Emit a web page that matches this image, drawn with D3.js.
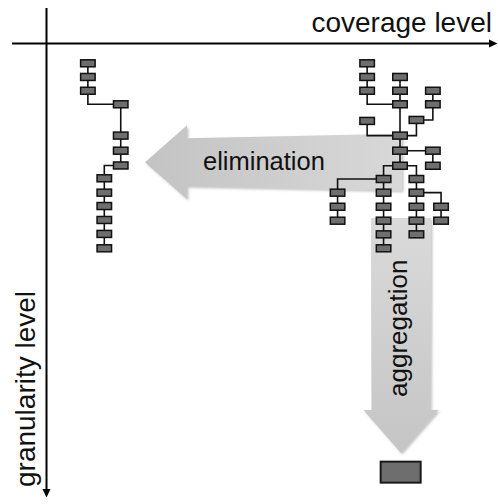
<!DOCTYPE html>
<html>
<head>
<meta charset="utf-8">
<script src="https://cdn.jsdelivr.net/npm/d3@7"></script>
<style>
  body { margin: 0; background: #fff; }
  svg { display: block; }
  text { font-family: "Liberation Sans", Arial, sans-serif; fill: #111; }
</style>
</head>
<body>
<svg id="chart"></svg>
<script>
// Tree nodes: [id, column, level]
var leftTreeNodes = [
    ["L1", -1, 0], ["L2", -1, 0.96], ["L3", -1, 1.93],
    ["L4", 1, 2.88], ["L5", 1, 5.08], ["L6", 1, 6.14], ["L7", 1, 7.18],
    ["L8", 0, 8.08], ["L9", 0, 9.09], ["L10", 0, 10.03],
    ["L11", 0, 11.01], ["L12", 0, 11.99], ["L13", 0, 13]
];
var rightTreeNodes = [
    ["A1", 16, 0], ["A2", 16, 0.96], ["A3", 16, 1.93],
    ["B1", 18, 0.96], ["B2", 18, 1.93], ["R3", 18, 2.88],
    ["C1", 20, 1.93], ["C2", 20, 2.88],
    ["D", 19, 3.98], ["E", 16, 4.05],
    ["R", 18, 5.08], ["S", 18, 6.14], ["S2", 20, 6.14], ["S3", 20, 7.2],
    ["T", 18, 7.2],
    ["U", 17, 8.13], ["U2", 17, 9.09], ["U3", 17, 10.08], ["U4", 17, 11.06], ["U5", 17, 12.02], ["U6", 17, 13],
    ["V", 19, 8.13], ["V2", 19, 9.09], ["V3", 19, 10.08], ["V4", 19, 11.06], ["V5", 19, 12.02],
    ["W1", 14.2, 9.09], ["W2", 14.2, 10.08], ["W3", 14.2, 11.06],
    ["X1", 20.5, 10.08], ["X2", 20.5, 11.06]
];
// aggregated result node
var aggregateNode = ["AGG", 18.04, 28.73];

// Links: [upper, lower, elbow]  ("vh" = down first, "hv" = across first)
var treeLinks = [
    ["L1", "L2"], ["L2", "L3"], ["L3", "L4", "vh"], ["L4", "L5"], ["L5", "L6"], ["L6", "L7"],
    ["L7", "L8", "hv"], ["L8", "L9"], ["L9", "L10"], ["L10", "L11"], ["L11", "L12"], ["L12", "L13"],
    ["A1", "A2"], ["A2", "A3"], ["A3", "R3", "vh"],
    ["B1", "B2"], ["B2", "R3"], ["R3", "R"],
    ["C1", "C2"], ["C2", "D", "vh"], ["D", "R", "vh"], ["E", "R", "vh"],
    ["R", "S"], ["S", "S2"], ["S2", "S3"], ["S", "T"],
    ["T", "U", "hv"], ["T", "V", "hv"],
    ["U", "U2"], ["U2", "U3"], ["U3", "U4"], ["U4", "U5"], ["U5", "U6"],
    ["U", "W1", "hv"], ["W1", "W2"], ["W2", "W3"],
    ["V", "V2"], ["V2", "V3"], ["V3", "V4"], ["V4", "V5"],
    ["V2", "X1", "hv"], ["X1", "X2"]
];

// Operation arrows: [label, tail column, tail level, tip column, tip level]
var operations = [
    ["elimination", 18.12, 6.95, 2.48, 6.95],
    ["aggregation", 18.06, 10.87, 18.06, 27.38]
];
var axisLabels = ["coverage level", "granularity level"];

var width = 498, height = 504;

var svg = d3.select("#chart")
    .attr("width", width)
    .attr("height", height);

// Define scales (column / level -> pixels)
var xScale = d3.scaleLinear().domain([0, 18]).range([104.3, 400]);
var yScale = d3.scaleLinear().domain([0, 13]).range([63.3, 248.3]);

var defs = svg.append("defs");

var gradH = defs.append("linearGradient").attr("id", "gradElim")
    .attr("x1", "0%").attr("x2", "100%").attr("y1", "0%").attr("y2", "0%");
gradH.append("stop").attr("offset", "0%").attr("stop-color", "#c3c3c3");
gradH.append("stop").attr("offset", "100%").attr("stop-color", "#d8d8d8");

var gradV = defs.append("linearGradient").attr("id", "gradAgg")
    .attr("x1", "0%").attr("x2", "0%").attr("y1", "0%").attr("y2", "100%");
gradV.append("stop").attr("offset", "0%").attr("stop-color", "#dadada");
gradV.append("stop").attr("offset", "100%").attr("stop-color", "#c5c5c5");

var shadow = defs.append("filter").attr("id", "shadow")
    .attr("x", "-10%").attr("y", "-10%").attr("width", "130%").attr("height", "130%");
shadow.append("feDropShadow").attr("dx", 1.5).attr("dy", 1.5)
    .attr("stdDeviation", 1).attr("flood-color", "#888").attr("flood-opacity", 0.5);

// Build a block arrow polygon
function arrowPoints(tail, tip, halfTail, halfNeck, headHalf, headLen) {
    var dx = tip[0] - tail[0], dy = tip[1] - tail[1];
    var len = Math.sqrt(dx * dx + dy * dy);
    var ux = dx / len, uy = dy / len, nx = -uy, ny = ux;
    var neck = [tip[0] - ux * headLen, tip[1] - uy * headLen];
    function off(p, s) { return [p[0] + nx * s, p[1] + ny * s]; }
    return [
        off(tail, halfTail), off(neck, halfNeck), off(neck, headHalf), tip,
        off(neck, -headHalf), off(neck, -halfNeck), off(tail, -halfTail)
    ];
}

var arrowStyle = {
    elimination: { fill: "url(#gradElim)", halfTail: 28.5, halfNeck: 24, headHalf: 37, headLen: 42 },
    aggregation: { fill: "url(#gradAgg)", halfTail: 30, halfNeck: 29.5, headHalf: 37.5, headLen: 43 }
};

var arrows = svg.append("g").attr("class", "operations");
operations.forEach(function (op) {
    var st = arrowStyle[op[0]];
    var tail = [xScale(op[1]), yScale(op[2])];
    var tip = [xScale(op[3]), yScale(op[4])];
    arrows.append("polygon")
        .attr("points", arrowPoints(tail, tip, st.halfTail, st.halfNeck, st.headHalf, st.headLen)
            .map(function (p) { return p.join(","); }).join(" "))
        .attr("fill", st.fill)
        .attr("filter", "url(#shadow)");
});

// Arrow labels
arrows.append("text")
    .attr("x", 203)
    .attr("y", 170)
    .style("font-size", "25.5px")
    .text(operations[0][0]);

arrows.append("text")
    .attr("transform", "translate(407,397) rotate(-90)")
    .style("font-size", "26px")
    .text(operations[1][0]);

// Axes
var axes = svg.append("g").attr("class", "axes");
axes.append("line")
    .attr("x1", 12).attr("x2", 490).attr("y1", 43.5).attr("y2", 43.5)
    .attr("stroke", "#000").attr("stroke-width", 2);
axes.append("polygon")
    .attr("points", "489,39.5 497.5,43.5 489,47.5").attr("fill", "#000");
axes.append("line")
    .attr("x1", 46.5).attr("x2", 46.5).attr("y1", 8).attr("y2", 490)
    .attr("stroke", "#000").attr("stroke-width", 2);
axes.append("polygon")
    .attr("points", "42.5,489 46.5,497.5 50.5,489").attr("fill", "#000");

axes.append("text")
    .attr("x", 492)
    .attr("y", 32)
    .style("text-anchor", "end")
    .style("font-size", "28px")
    .text(axisLabels[0]);

axes.append("text")
    .attr("transform", "translate(35,487) rotate(-90)")
    .style("font-size", "28px")
    .text(axisLabels[1]);

// Trees
var allNodes = leftTreeNodes.concat(rightTreeNodes);
var byId = {};
allNodes.forEach(function (n) { byId[n[0]] = { x: xScale(n[1]), y: yScale(n[2]) }; });

var trees = svg.append("g").attr("class", "trees");

trees.selectAll(".link")
    .data(treeLinks)
    .enter()
    .append("path")
    .attr("class", "link")
    .attr("fill", "none")
    .attr("stroke", "#111")
    .attr("stroke-width", 1.6)
    .attr("d", function (d) {
        var a = byId[d[0]], b = byId[d[1]];
        if (d[2] === "vh") return "M" + a.x + "," + a.y + "V" + b.y + "H" + b.x;
        if (d[2] === "hv") return "M" + a.x + "," + a.y + "H" + b.x + "V" + b.y;
        return "M" + a.x + "," + a.y + "L" + b.x + "," + b.y;
    });

var boxW = 14.5, boxH = 7;
trees.selectAll(".node")
    .data(allNodes)
    .enter()
    .append("rect")
    .attr("class", "node")
    .attr("x", function (d) { return xScale(d[1]) - boxW / 2; })
    .attr("y", function (d) { return yScale(d[2]) - boxH / 2; })
    .attr("width", boxW)
    .attr("height", boxH)
    .attr("fill", "#6e6e6e")
    .attr("stroke", "#111")
    .attr("stroke-width", 1.5);

// Aggregated node
trees.append("rect")
    .attr("x", xScale(aggregateNode[1]) - 20)
    .attr("y", yScale(aggregateNode[2]) - 10.5)
    .attr("width", 40)
    .attr("height", 21)
    .attr("fill", "#6e6e6e")
    .attr("stroke", "#1a1a1a")
    .attr("stroke-width", 2);
</script>
</body>
</html>
